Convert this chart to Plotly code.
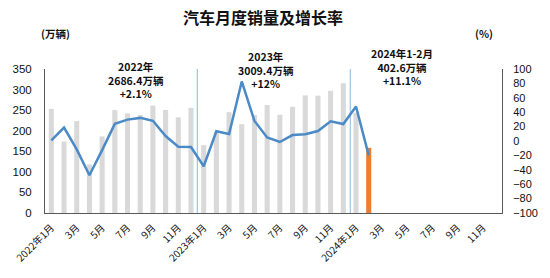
import plotly.graph_objects as go

# ---- data ----
years = [2022, 2023, 2024]
month_labels = []
for y in years:
    for m in range(1, 13):
        month_labels.append(f"{y}年{m}月" if m == 1 else f"{m}月")

sales = [253.1, 173.7, 223.4, 118.1, 186.2, 250.2, 242.0, 238.3, 261.0, 250.5, 232.7, 255.6,
         164.9, 197.6, 245.1, 215.9, 238.2, 262.2, 238.7, 258.2, 285.8, 285.3, 297.0, 315.6,
         243.9, 158.4]
growth = [0.9, 18.7, -11.7, -47.6, -12.6, 23.8, 29.7, 32.1, 28.1, 6.9, -7.9, -8.4,
          -35.0, 13.5, 9.7, 82.7, 27.9, 4.8, -1.4, 8.2, 9.5, 13.8, 27.4, 23.5,
          47.9, -19.9]
highlight_index = 25  # 2024年2月

left_ticks = [0, 50, 100, 150, 200, 250, 300, 350]
right_ticks = [-100, -80, -60, -40, -20, 0, 20, 40, 60, 80, 100]

notes = [
    ("2022年<br>2686.4万辆<br>+2.1%", 6.7, 0.924),
    ("2023年<br>3009.4万辆<br>+12%", 16.9, 0.993),
    ("2024年1-2月<br>402.6万辆<br>+11.1%", 27.6, 1.014),
]
year_dividers = [11.5, 23.55]

GRAY = "#D9D9D9"
ORANGE = "#ED7D31"
BLUE = "#4A8AC6"
FONT = "Noto Sans CJK SC"
NUMFONT = "Liberation Sans"

x_idx = list(range(len(sales)))
bar_colors = [ORANGE if i == highlight_index else GRAY for i in x_idx]

fig = go.Figure()
fig.add_trace(go.Bar(x=x_idx, y=sales, marker=dict(color=bar_colors, line=dict(width=0)),
                     width=0.4, yaxis="y", showlegend=False))
fig.add_trace(go.Scatter(x=x_idx, y=growth, mode="lines", line=dict(color=BLUE, width=2.5),
                         yaxis="y2", showlegend=False))

for xv in year_dividers:
    fig.add_shape(type="line", x0=xv, x1=xv, y0=0, y1=1, xref="x", yref="paper",
                  line=dict(color="#9DC3E6", width=1.2), layer="below")

for text, xv, yv in notes:
    fig.add_annotation(text=f"<b>{text}</b>", x=xv, y=yv, xref="x", yref="paper",
                       showarrow=False, xanchor="center", yanchor="middle",
                       font=dict(family=FONT, size=10.5, color="#111111"))

fig.add_annotation(text="<b>(万辆)</b>", x=(56 - 45) / 465, y=(213 - 33) / 144,
                   xref="paper", yref="paper", showarrow=False, xanchor="center", yanchor="middle",
                   font=dict(family=FONT, size=10.5, color="#111111"))
fig.add_annotation(text="<b>(%)</b>", x=(492 - 45) / 465, y=(213 - 33) / 144,
                   xref="paper", yref="paper", showarrow=False, xanchor="center", yanchor="middle",
                   font=dict(family=FONT, size=10.5, color="#111111"))

tickvals = list(range(0, 36, 2))
ticktext = [month_labels[i] for i in tickvals]

fig.update_layout(
    width=550, height=278,
    margin=dict(l=45, r=40, t=69, b=65),
    paper_bgcolor="white", plot_bgcolor="white",
    font=dict(family=FONT, color="#111111"),
    title=dict(text="<b>汽车月度销量及增长率</b>", x=0.478, xanchor="center",
               y=1 - 18 / 278, yanchor="middle", yref="container",
               font=dict(family=FONT, size=16, color="#111111")),
    xaxis=dict(range=[-0.5, 35.5], tickmode="array", tickvals=tickvals, ticktext=ticktext,
               tickangle=-45, showgrid=False, zeroline=False, showline=True,
               linecolor="#595959", linewidth=1, ticks="outside", ticklen=4,
               tickcolor="rgba(0,0,0,0)",
               tickfont=dict(family=FONT, size=10, color="#111111"),
               tickprefix="<b>", ticksuffix="</b>"),
    yaxis=dict(range=[0, 350], tickmode="array", tickvals=left_ticks, showgrid=False,
               zeroline=False, showline=True, linecolor="#595959", linewidth=1,
               ticks="outside", ticklen=10, tickcolor="rgba(0,0,0,0)",
               tickfont=dict(family=NUMFONT, size=11.5, color="#111111"),
               tickprefix="<b>", ticksuffix="</b>"),
    yaxis2=dict(range=[-100, 100], overlaying="y", side="right", tickmode="array",
                tickvals=right_ticks, showgrid=False, zeroline=False, showline=True,
                linecolor="#595959", linewidth=1, ticks="outside", ticklen=8,
                tickcolor="rgba(0,0,0,0)",
                tickfont=dict(family=NUMFONT, size=11, color="#111111"),
                tickprefix="<b>", ticksuffix="</b>"),
)

fig.write_html("out.html")
